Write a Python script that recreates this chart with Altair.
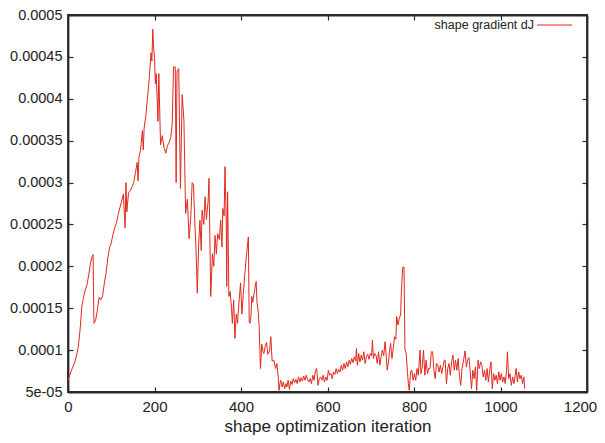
import altair as alt
import pandas as pd

# iteration numbers and shape gradient dJ (values in units of 1e-5)
iters = [
    0, 4, 8, 12, 16, 20, 24, 28, 32, 36, 40, 44, 48, 52, 56, 58, 60, 64, 68, 72,
    76, 80, 84, 88, 92, 96, 100, 104, 108, 112, 116, 120, 124, 128, 132, 134, 136, 140, 144, 148,
    152, 156, 160, 162, 164, 168, 172, 174, 176, 180, 184, 188, 192, 194, 196, 198, 200, 202, 204, 208,
    210, 214, 218, 222, 226, 230, 234, 238, 241, 244, 248, 250, 252, 256, 260, 264, 268, 272, 276, 280,
    284, 287, 290, 293, 296, 299, 302, 305, 308, 310, 314, 317, 320, 324, 326, 330, 334, 337, 340, 343,
    346, 350, 353, 356, 358, 361, 363, 366, 367, 369, 372, 375, 378, 380, 383, 386, 389, 392, 395, 399,
    402, 405, 409, 413, 417, 419, 421, 423, 425, 427, 431, 435, 437, 440, 442, 445, 448, 451, 453, 456,
    459, 462, 466, 469, 472, 476, 480, 483, 486, 488, 490, 492, 495, 498, 501, 504, 506, 509, 512, 515,
    518, 521, 524, 527, 530, 533, 536, 539, 542, 545, 548, 551, 554, 557, 560, 563, 566, 569, 572, 575,
    578, 581, 584, 587, 590, 593, 596, 599, 602, 605, 608, 611, 614, 617, 620, 623, 626, 629, 632, 635,
    638, 641, 644, 647, 650, 653, 656, 659, 662, 665, 667, 669, 672, 675, 678, 681, 684, 687, 690, 693,
    696, 699, 702, 704, 706, 709, 712, 715, 718, 721, 724, 727, 730, 733, 736, 738, 741, 744, 746, 749,
    752, 755, 758, 760, 763, 766, 769, 771, 774, 777, 779, 782, 785, 787, 789, 792, 795, 798, 801, 804,
    807, 810, 814, 816, 819, 822, 825, 828, 831, 834, 837, 840, 843, 846, 849, 852, 855, 858, 861, 864,
    867, 870, 872, 875, 878, 881, 884, 887, 890, 893, 896, 899, 902, 905, 908, 911, 914, 918, 921, 924,
    927, 930, 933, 936, 939, 942, 945, 948, 951, 954, 957, 960, 963, 966, 969, 972, 975, 978, 981, 984,
    987, 990, 993, 996, 999, 1002, 1005, 1008, 1011, 1014, 1016, 1019, 1022, 1025, 1028, 1031, 1034, 1036, 1039, 1042,
    1045, 1048, 1051, 1054, 1056,
]
grad_e5 = [
    6.4, 7.0, 7.6, 8.1, 8.6, 9.4, 10.5, 12.5, 15.2, 16.3, 17.2, 17.8, 19.0, 20.4, 21.2, 21.4, 13.2, 13.6, 14.8, 16.3,
    16.0, 16.5, 18.0, 19.2, 21.0, 22.2, 22.8, 23.8, 24.6, 25.2, 26.2, 27.0, 27.8, 28.6, 24.6, 30.0, 26.5, 28.8, 29.0, 29.5,
    30.0, 31.2, 32.4, 30.2, 33.0, 34.0, 36.2, 33.9, 36.5, 38.0, 40.2, 42.5, 45.5, 44.5, 48.3, 46.0, 45.0, 41.8, 43.0, 37.3,
    43.0, 34.5, 35.6, 34.2, 33.5, 34.4, 34.8, 35.5, 37.0, 43.8, 43.8, 30.0, 43.2, 43.6, 29.3, 40.5, 37.4, 26.3, 28.0, 23.3,
    26.0, 30.0, 29.8, 25.6, 22.0, 16.8, 22.5, 25.5, 21.9, 26.7, 25.0, 28.3, 25.6, 27.8, 30.5, 16.4, 21.5, 20.0, 23.7, 21.5,
    23.9, 23.2, 25.5, 22.3, 26.9, 26.0, 31.9, 25.0, 17.6, 28.9, 16.4, 17.0, 15.0, 13.2, 16.0, 11.4, 14.3, 13.2, 15.5, 18.0,
    14.3, 16.5, 19.2, 21.5, 23.5, 13.4, 13.2, 14.0, 16.4, 15.7, 17.0, 18.2, 15.7, 14.5, 12.8, 7.8, 10.7, 9.8, 9.6, 10.5,
    10.9, 9.5, 9.9, 11.6, 8.7, 8.8, 7.8, 8.4, 6.8, 5.2, 6.0, 6.4, 5.6, 6.2, 5.4, 6.0, 5.6, 6.4, 5.3, 6.3,
    5.9, 6.6, 6.1, 6.5, 6.0, 6.8, 6.2, 6.7, 6.3, 6.9, 6.4, 7.0, 6.5, 6.2, 6.6, 6.0, 7.0, 6.4, 7.5, 7.8,
    5.8, 6.6, 6.8, 6.4, 7.0, 6.2, 6.8, 6.4, 7.6, 7.0, 7.2, 6.6, 7.4, 7.1, 7.8, 7.2, 7.7, 7.4, 8.2, 7.6,
    8.4, 7.8, 8.6, 8.0, 8.8, 8.3, 9.0, 8.5, 9.2, 8.7, 10.2, 8.2, 9.6, 8.6, 9.4, 8.8, 9.8, 8.4, 9.2, 9.5,
    8.9, 9.6, 9.3, 11.2, 9.0, 9.6, 9.4, 8.4, 9.8, 8.2, 9.2, 10.0, 9.3, 11.0, 9.2, 7.6, 8.6, 10.2, 10.8, 9.0,
    10.2, 11.6, 11.3, 14.0, 13.0, 13.8, 14.2, 17.2, 19.9, 19.9, 10.0, 9.6, 7.2, 6.0, 5.2, 7.4, 7.6, 6.4, 7.2, 6.4,
    7.8, 7.0, 10.0, 7.2, 8.0, 10.0, 7.0, 8.8, 7.2, 7.8, 7.8, 9.8, 9.8, 7.6, 6.6, 8.4, 8.2, 7.4, 8.2, 7.2,
    8.0, 8.8, 8.8, 6.0, 7.8, 8.4, 7.0, 8.6, 9.4, 7.6, 8.8, 7.6, 9.0, 7.0, 5.8, 7.8, 8.6, 9.9, 8.0, 8.8,
    9.1, 7.4, 5.4, 7.6, 6.6, 8.0, 5.2, 8.8, 7.8, 8.6, 8.2, 6.8, 7.6, 6.4, 7.8, 6.2, 7.6, 8.6, 5.4, 7.2,
    6.4, 7.0, 6.0, 7.4, 6.4, 7.2, 6.2, 6.8, 6.0, 7.6, 9.8, 6.6, 7.2, 5.8, 6.8, 6.0, 7.0, 7.8, 6.2, 7.4,
    6.6, 7.0, 6.0, 6.8, 5.4,
]

x_ticks = [0, 200, 400, 600, 800, 1000, 1200]
y_ticks = [0.00005, 0.0001, 0.00015, 0.0002, 0.00025, 0.0003, 0.00035, 0.0004, 0.00045, 0.0005]
legend_label = ["shape gradient dJ"]

LINE_COLOR = "#e2281e"
FONT = "Liberation Sans"
FRAME = "#2b2b2b"
W, H = 519, 377

df = pd.DataFrame({"iteration": iters, "dJ": [v * 1e-5 for v in grad_e5]})

xscale = alt.Scale(domain=[0, 1200], nice=False, zero=False)
yscale = alt.Scale(domain=[0.00005, 0.0005], nice=False, zero=False)

common = dict(domain=True, domainColor=FRAME, domainWidth=1.8, ticks=True,
              tickColor=FRAME, tickWidth=1.2, tickSize=alt.ExprRef("-5"), grid=False)

line = alt.Chart(df).mark_line(color=LINE_COLOR, strokeWidth=1, clip=True).encode(
    x=alt.X("iteration:Q", scale=xscale,
            axis=alt.Axis(values=x_ticks, orient="bottom", format="d", labelPadding=12,
                          labelFlush=False, labelFontSize=15, labelFont=FONT, labelColor="#222",
                          labelOffset={"condition": {"test": "datum.value == 1200", "value": -7},
                                       "value": 0},
                          title="shape optimization iteration", titleFontSize=17, titlePadding=4,
                          titleFont=FONT, titleFontWeight="normal", titleColor="#222",
                          **common)),
    y=alt.Y("dJ:Q", scale=yscale,
            axis=alt.Axis(values=y_ticks, orient="left", labelFlush=False, title=None,
                          labelExpr="datum.value < 0.00006 ? '5e-05' : format(datum.value, '.2~r')",
                          labelPadding=11, labelFontSize=14.5, labelFont=FONT, labelColor="#222",
                          **common)),
)

yt = pd.DataFrame({"iteration": [0] * len(y_ticks), "dJ": y_ticks})
mirror = alt.Chart(yt).mark_point(opacity=0).encode(
    x=alt.X("iteration:Q", scale=xscale,
            axis=alt.Axis(values=x_ticks, orient="top", labels=False, title=None, **common)),
    y=alt.Y("dJ:Q", scale=yscale,
            axis=alt.Axis(values=y_ticks, orient="right", labels=False, title=None, **common)),
)

leg_df = pd.DataFrame({"label": legend_label})
leg_text = alt.Chart(leg_df).mark_text(align="right", baseline="middle", fontSize=12.5,
                                       font=FONT, color="#222").encode(
    text="label:N", x=alt.value(466), y=alt.value(10))
leg_line = alt.Chart(leg_df).mark_rule(color=LINE_COLOR, strokeWidth=1).encode(
    x=alt.value(469), x2=alt.value(504), y=alt.value(10))

chart = alt.layer(line, mirror, leg_text, leg_line).resolve_axis(
    x="independent", y="independent"
).properties(
    width=W, height=H,
    background="white",
    autosize=alt.AutoSizeParams(type="none"),
    padding={"left": 60, "top": 7, "right": 10, "bottom": 43},
).configure_view(stroke=FRAME, strokeWidth=1.8)

chart.save("out.html", embed_options={"renderer": "svg", "actions": False})
